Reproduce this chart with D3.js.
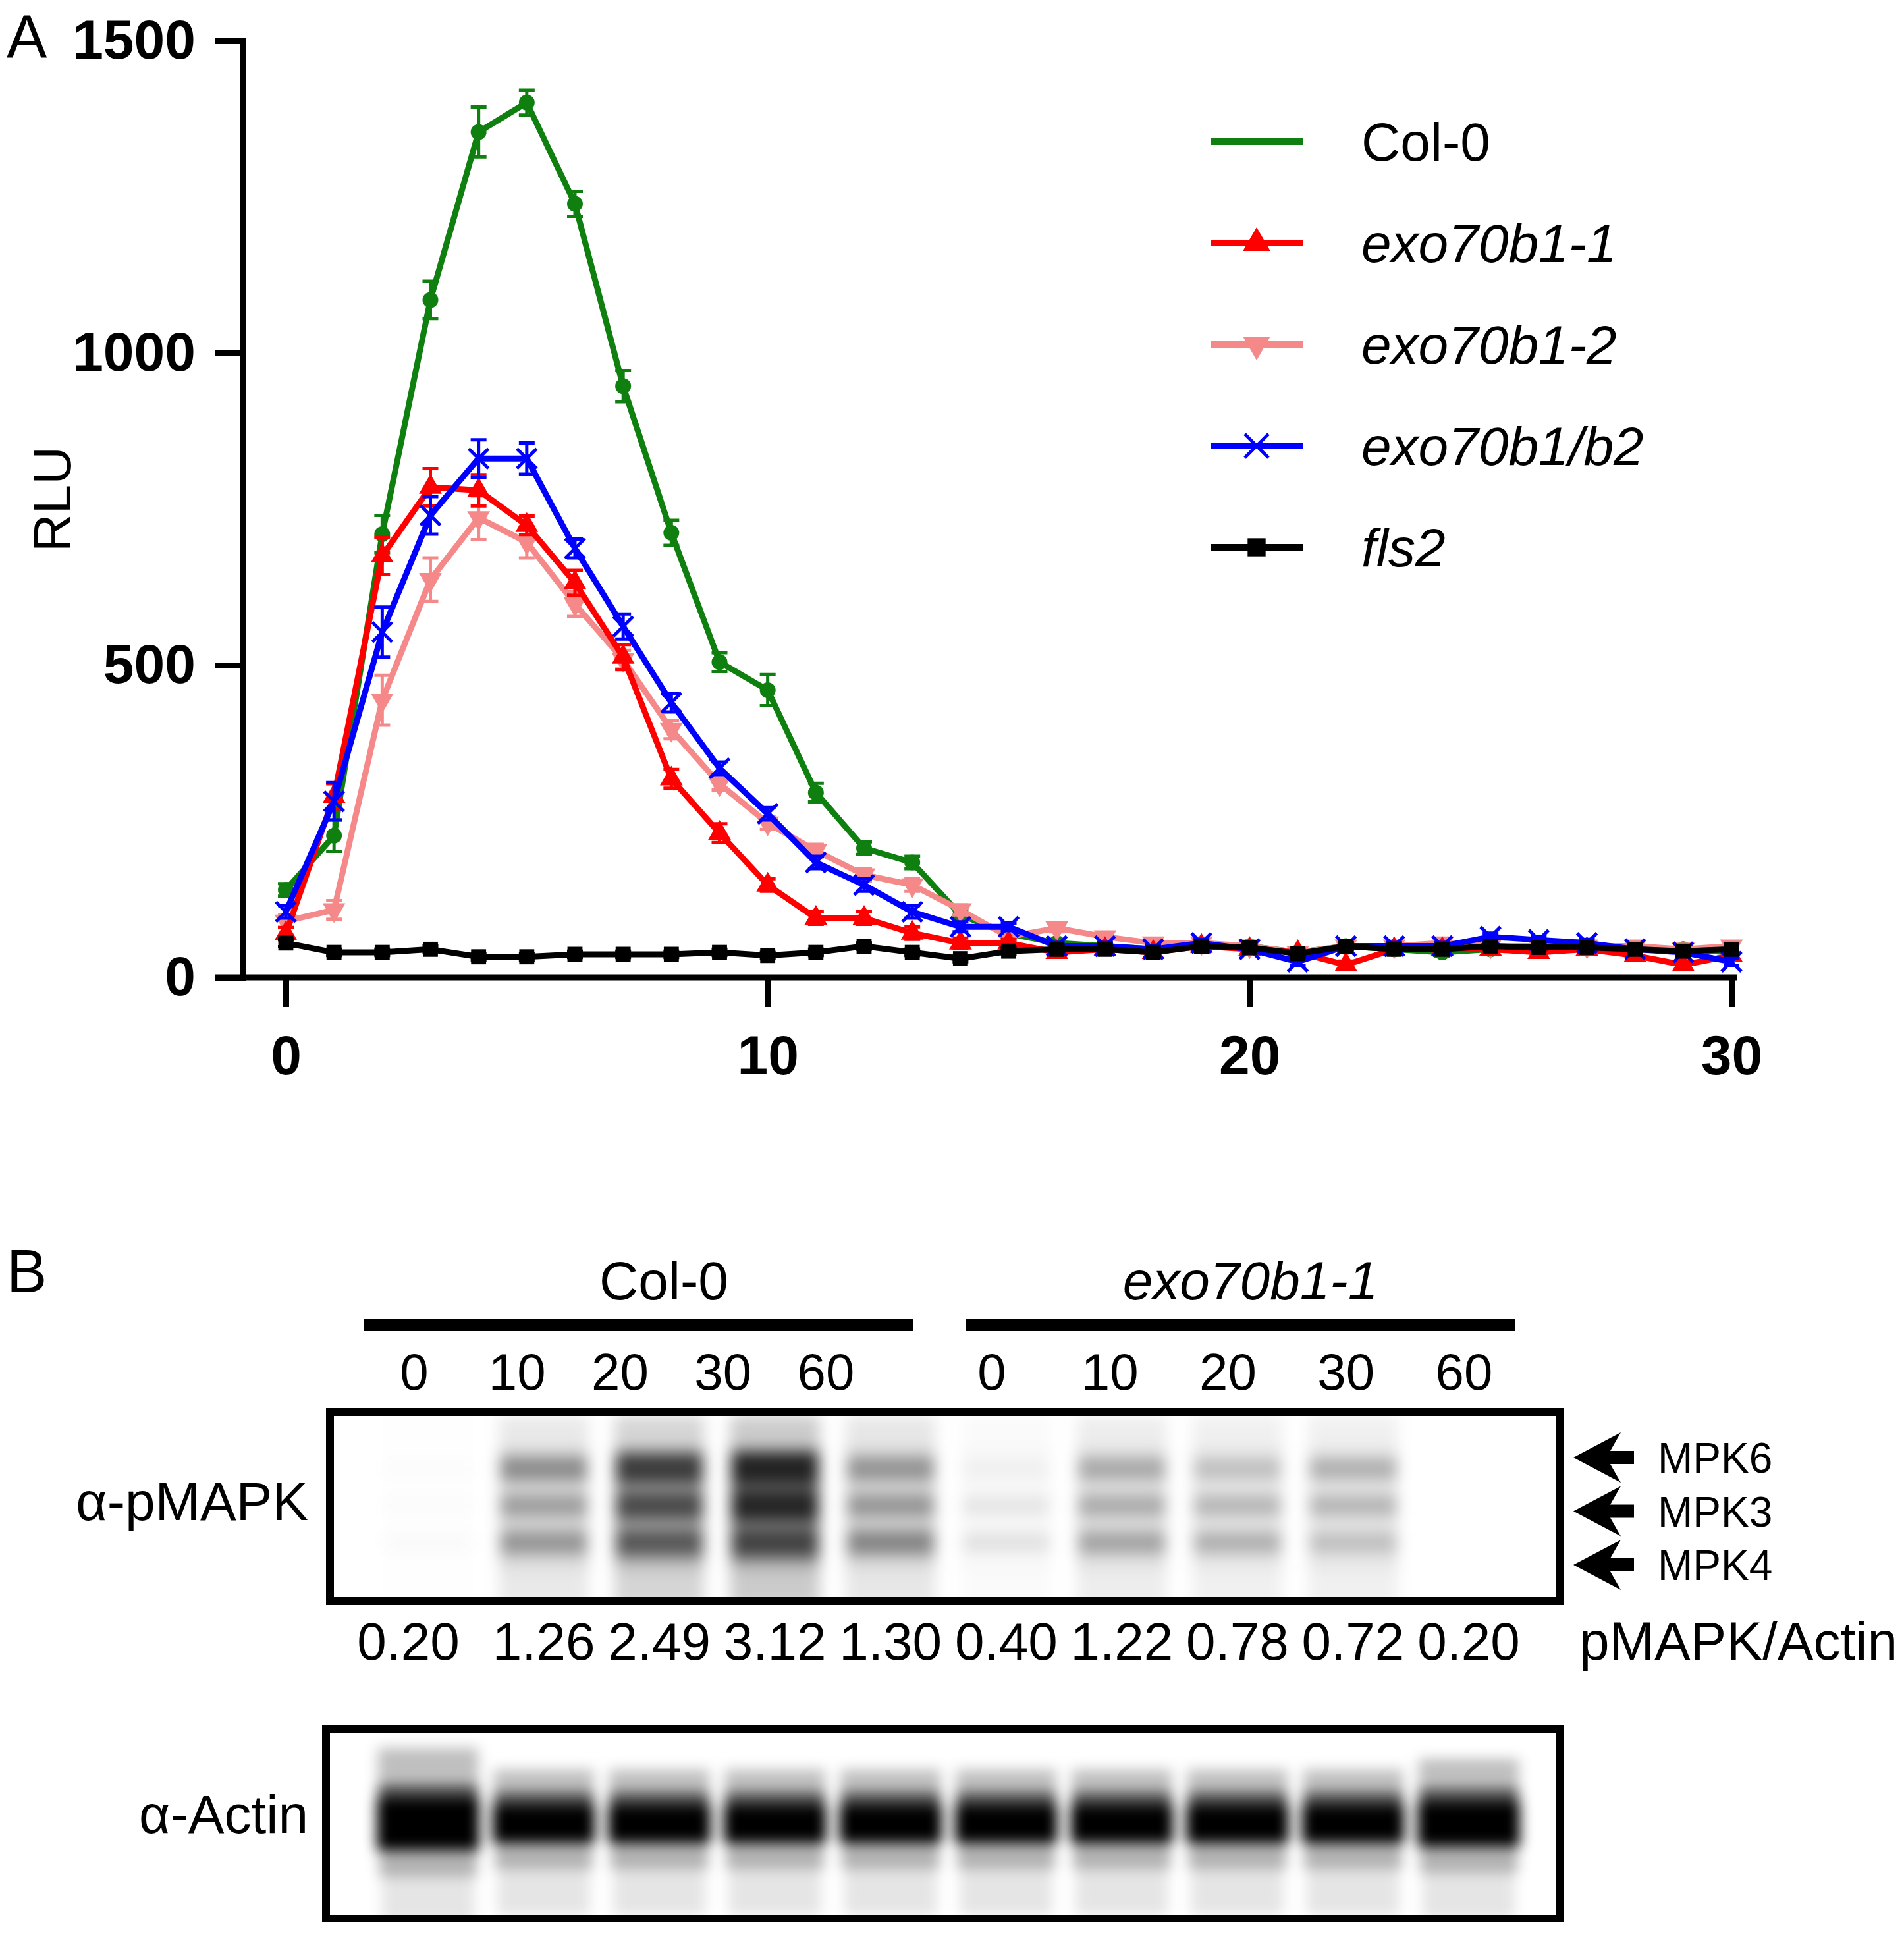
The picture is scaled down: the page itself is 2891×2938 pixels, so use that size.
<!DOCTYPE html>
<html>
<head>
<meta charset="utf-8">
<script src="https://cdn.jsdelivr.net/npm/d3@7"></script>
<style>
  body { margin: 0; background: #fff; }
  text { font-family: "Liberation Sans", Arial, sans-serif; }
</style>
</head>
<body>
<div id="fig"></div>
<script>
// ---- panel A data ----
const minutes = [0,1,2,3,4,5,6,7,8,9,10,11,12,13,14,15,16,17,18,19,20,21,22,23,24,25,26,27,28,29,30];
const col0    = [140,227,710,1085,1354,1401,1239,947,712,505,460,296,207,184,100,70,55,50,45,50,50,40,50,45,40,45,45,50,45,45,40];
const col0Err = [10,25,30,30,40,20,20,25,20,15,25,15,10,10,8,6,6,6,6,6,6,6,6,6,6,6,6,6,6,6,6];
const b1_1    = [70,290,675,785,780,724,632,513,318,231,148,95,95,71,55,55,40,45,40,50,45,40,20,45,45,45,40,45,35,20,35];
const b1_1Err = [10,20,30,30,25,15,20,20,15,15,10,10,10,10,8,6,6,6,6,6,6,6,6,6,6,6,6,6,6,6,6];
const b1_2    = [90,108,444,637,736,697,598,509,397,310,247,203,164,148,108,65,79,65,55,55,50,40,50,50,55,50,50,50,50,45,50];
const b1_2Err = [10,15,40,35,35,25,20,15,15,10,10,10,10,10,8,6,6,6,6,6,6,6,6,6,6,6,6,6,6,6,6];
const b1b2    = [105,282,553,740,831,831,687,562,440,335,262,184,148,105,81,81,50,50,45,55,45,25,50,50,50,65,60,55,45,40,25];
const b1b2Err = [10,30,40,30,30,25,15,20,15,10,10,10,10,10,8,6,6,6,6,6,6,6,6,6,6,6,6,6,6,6,6];
const fls2    = [55,40,40,45,33,33,37,37,37,40,35,40,50,40,30,42,45,45,40,50,48,38,50,45,45,50,48,48,45,42,45];
const fls2Err = [6,5,5,5,5,5,5,5,5,5,5,5,5,5,5,5,5,5,5,5,5,5,5,5,5,5,5,5,5,5,5];
const yTicks = [0, 500, 1000, 1500];
const xTicks = [0, 10, 20, 30];

// ---- panel B data ----
const groups = ['Col-0', 'exo70b1-1'];
const timePoints = ['0','10','20','30','60'];
const ratio = [0.20, 1.26, 2.49, 3.12, 1.30, 0.40, 1.22, 0.78, 0.72, 0.20];
const mpk6  = [0.02, 0.45, 0.85, 1.00, 0.40, 0.05, 0.32, 0.22, 0.30, 0.00];
const mpk3  = [0.02, 0.35, 0.75, 0.98, 0.38, 0.10, 0.30, 0.26, 0.27, 0.00];
const mpk4  = [0.03, 0.40, 0.66, 0.78, 0.48, 0.12, 0.35, 0.30, 0.22, 0.00];
const actin = [1.4, 1.0, 1.0, 1.0, 1.0, 1.0, 1.0, 1.0, 1.0, 1.2];
const kinases = ['MPK6', 'MPK3', 'MPK4'];

const series = [
  { name: 'Col-0',      vals: col0, err: col0Err, color: '#0f7f0f', shape: 'circle', italic: false },
  { name: 'exo70b1-2',  vals: b1_2, err: b1_2Err, color: '#f5898a', shape: 'down',   italic: true },
  { name: 'exo70b1-1',  vals: b1_1, err: b1_1Err, color: '#ff0000', shape: 'up',     italic: true },
  { name: 'exo70b1/b2', vals: b1b2, err: b1b2Err, color: '#0000ff', shape: 'x',      italic: true },
  { name: 'fls2',       vals: fls2, err: fls2Err, color: '#000000', shape: 'square', italic: true }
];
const legendOrder = ['Col-0', 'exo70b1-1', 'exo70b1-2', 'exo70b1/b2', 'fls2'];

const W = 2891, H = 2938;
const svg = d3.select('#fig').append('svg')
  .attr('width', W).attr('height', H)
  .attr('viewBox', `0 0 ${W} ${H}`);

const FONT = '"Liberation Sans", Arial, sans-serif';

// ================= panel A =================
const x = d3.scaleLinear().domain([0, 30]).range([434, 2629]);
const y = d3.scaleLinear().domain([0, 1500]).range([1484, 62]);
const yAxisX = 369, tickLen = 42, axisW = 9;

svg.append('text').attr('x', 10).attr('y', 88)
  .attr('font-size', 92).text('A');

svg.append('g')
  .attr('transform', `translate(${yAxisX},0)`)
  .call(d3.axisLeft(y).tickValues(yTicks).tickFormat(d3.format('d'))
    .tickSize(tickLen).tickSizeOuter(0).tickPadding(30))
  .call(g => {
    g.attr('font-family', FONT).attr('font-size', 84).attr('font-weight', 'bold');
    g.select('.domain').attr('stroke-width', axisW).attr('stroke-linecap', 'square');
    g.selectAll('.tick line').attr('stroke-width', axisW);
  });

svg.append('g')
  .attr('transform', `translate(0,${y(0)})`)
  .call(d3.axisBottom(x).tickValues(xTicks).tickSize(45).tickSizeOuter(0).tickPadding(42))
  .call(g => {
    g.attr('font-family', FONT).attr('font-size', 84).attr('font-weight', 'bold');
    g.select('.domain').attr('d', `M${yAxisX - tickLen},0H${x(30) + axisW}`).attr('stroke-width', axisW);
    g.selectAll('.tick line').attr('stroke-width', axisW);
  });

svg.append('text')
  .attr('transform', `translate(79,${(y(0) + y(1500)) / 2 - 15}) rotate(-90)`)
  .attr('text-anchor', 'middle').attr('dominant-baseline', 'central')
  .attr('font-size', 80).text('RLU');

function marker(g, shape, color, k = 1) {
  if (shape === 'circle') {
    g.append('circle').attr('r', 12 * k).attr('fill', color);
  } else if (shape === 'up') {
    g.append('path').attr('d', d3.symbol(d3.symbolTriangle, 520 * k * k)()).attr('fill', color);
  } else if (shape === 'down') {
    g.append('path').attr('d', d3.symbol(d3.symbolTriangle, 520 * k * k)())
      .attr('transform', 'rotate(180)').attr('fill', color);
  } else if (shape === 'square') {
    g.append('path').attr('d', d3.symbol(d3.symbolSquare, 520 * k * k)()).attr('fill', color);
  } else if (shape === 'x') {
    const r = 15 * k;
    g.append('path').attr('d', `M${-r},${-r}L${r},${r}M${-r},${r}L${r},${-r}`)
      .attr('stroke', color).attr('stroke-width', 5).attr('fill', 'none');
  }
}

const line = d3.line().x((d, i) => x(minutes[i])).y(d => y(d));
const plot = svg.append('g');

series.forEach(s => {
  const g = plot.append('g');
  g.append('path').datum(s.vals)
    .attr('d', line).attr('fill', 'none')
    .attr('stroke', s.color).attr('stroke-width', 9).attr('stroke-linejoin', 'round');

  const eb = g.selectAll('.eb').data(s.vals).enter().append('g')
    .attr('transform', (d, i) => `translate(${x(minutes[i])},0)`);
  eb.append('path')
    .attr('d', (d, i) => {
      const t = y(d + s.err[i]), b = y(Math.max(0, d - s.err[i]));
      return `M0,${t}V${b}M-12,${t}H12M-12,${b}H12`;
    })
    .attr('stroke', s.color).attr('stroke-width', 5).attr('fill', 'none');

  g.selectAll('.pt').data(s.vals).enter().append('g')
    .attr('transform', (d, i) => `translate(${x(minutes[i])},${y(d)})`)
    .each(function () { marker(d3.select(this), s.shape, s.color); });
});

// legend
const legend = svg.append('g');
legendOrder.forEach((name, i) => {
  const s = series.find(d => d.name === name);
  const ly = 215 + i * 154;
  legend.append('line').attr('x1', 1839).attr('x2', 1978).attr('y1', ly).attr('y2', ly)
    .attr('stroke', s.color).attr('stroke-width', 10);
  if (s.shape !== 'circle') {
    const m = legend.append('g').attr('transform', `translate(1908,${ly})`);
    marker(m, s.shape, s.color, 1.2);
  }
  legend.append('text').attr('x', 2067).attr('y', ly + 29)
    .attr('font-size', 82).attr('font-style', s.italic ? 'italic' : 'normal')
    .text(s.name);
});

// ================= panel B =================
const defs = svg.append('defs');
defs.append('filter').attr('id', 'blurB')
  .attr('x', '-50%').attr('y', '-50%').attr('width', '200%').attr('height', '200%')
  .append('feGaussianBlur').attr('stdDeviation', 11);
defs.append('filter').attr('id', 'blurA')
  .attr('x', '-50%').attr('y', '-50%').attr('width', '200%').attr('height', '200%')
  .append('feGaussianBlur').attr('stdDeviation', 10);
defs.append('clipPath').attr('id', 'clipP')
  .append('rect').attr('x', 507).attr('y', 2150).attr('width', 1856).attr('height', 275);
defs.append('clipPath').attr('id', 'clipA')
  .append('rect').attr('x', 501).attr('y', 2631).attr('width', 1862).attr('height', 276);

const lanes = d3.range(ratio.length);
const lane = d3.scalePoint().domain(lanes).range([650, 2230]);

svg.append('text').attr('x', 10).attr('y', 1962).attr('font-size', 92).text('B');

// group headers
const groupBars = [[553, 1387], [1466, 2301]];
const labelRange = [[629, 1254], [1506, 2223]];
groups.forEach((gname, gi) => {
  const [a, b] = groupBars[gi];
  svg.append('text').attr('x', (a + b) / 2 + (gi === 0 ? 38 : 15)).attr('y', 1973)
    .attr('text-anchor', 'middle').attr('font-size', 82)
    .attr('font-style', gi === 0 ? 'normal' : 'italic').text(gname);
  svg.append('rect').attr('x', a).attr('y', 2002).attr('width', b - a).attr('height', 19).attr('fill', '#000');
  const ts = d3.scalePoint().domain(timePoints).range(labelRange[gi]);
  svg.selectAll(null).data(timePoints).enter().append('text')
    .attr('x', d => ts(d)).attr('y', 2110)
    .attr('text-anchor', 'middle').attr('font-size', 78).text(d => d);
});

// pMAPK blot
const bandRows = d3.scalePoint().domain(kinases).range([2230, 2342]);
const bandData = [mpk6, mpk3, mpk4];
const blotP = svg.append('g').attr('clip-path', 'url(#clipP)');
const bandsG = blotP.append('g').attr('filter', 'url(#blurB)');
lanes.forEach(i => {
  const avg = (mpk6[i] + mpk3[i] + mpk4[i]) / 3;
  bandsG.append('rect')
    .attr('x', lane(i) - 68).attr('y', 2150).attr('width', 136).attr('height', 290)
    .attr('fill', '#000').attr('opacity', avg * 0.22);
  bandsG.append('rect')
    .attr('x', lane(i) - 68).attr('y', 2195).attr('width', 136).attr('height', 190)
    .attr('fill', '#000').attr('opacity', avg * 0.15);
  kinases.forEach((k, r) => {
    const v = bandData[r][i];
    const h = 26 + 24 * v;
    bandsG.append('rect')
      .attr('x', lane(i) - 66).attr('y', bandRows(k) - h / 2)
      .attr('width', 132).attr('height', h)
      .attr('fill', '#000').attr('opacity', Math.min(1, v * 0.8));
  });
});
svg.append('rect').attr('x', 501).attr('y', 2144).attr('width', 1868).attr('height', 287)
  .attr('fill', 'none').attr('stroke', '#000').attr('stroke-width', 12);

svg.append('text').attr('x', 468).attr('y', 2308).attr('text-anchor', 'end')
  .attr('font-size', 82).text('α-pMAPK');

// arrows
const arrowY = d3.scalePoint().domain(kinases).range([2213, 2376]);
kinases.forEach(k => {
  svg.append('path')
    .attr('transform', `translate(2389,${arrowY(k)})`)
    .attr('d', 'M0,0L72,-38L56,-10H92V10H56L72,38Z')
    .attr('fill', '#000');
  svg.append('text').attr('x', 2517).attr('y', arrowY(k) + 23)
    .attr('font-size', 64).text(k);
});

// ratio row
svg.selectAll(null).data(ratio).enter().append('text')
  .attr('x', (d, i) => lane(i) - (i === 0 ? 30 : 0)).attr('y', 2520)
  .attr('text-anchor', 'middle').attr('font-size', 80)
  .text(d => d3.format('.2f')(d));
svg.append('text').attr('x', 2398).attr('y', 2520).attr('font-size', 82).text('pMAPK/Actin');

// actin blot
const blotA = svg.append('g').attr('clip-path', 'url(#clipA)');
const actG = blotA.append('g').attr('filter', 'url(#blurA)');
lanes.forEach(i => {
  const s = actin[i];
  const core = 56 * s;
  const top = 2770 - core / 2;
  actG.append('rect').attr('x', lane(i) - 76).attr('y', top - 55 * s)
    .attr('width', 152).attr('height', 55 * s).attr('fill', '#000').attr('opacity', 0.25);
  actG.append('rect').attr('x', lane(i) - 76).attr('y', top - 20)
    .attr('width', 152).attr('height', 20).attr('fill', '#000').attr('opacity', 0.6);
  actG.append('rect').attr('x', lane(i) - 78).attr('y', top)
    .attr('width', 156).attr('height', core).attr('fill', '#000');
  actG.append('rect').attr('x', lane(i) - 74).attr('y', top + core)
    .attr('width', 148).attr('height', 40).attr('fill', '#000').attr('opacity', 0.3);
  actG.append('rect').attr('x', lane(i) - 70).attr('y', top + core + 40)
    .attr('width', 140).attr('height', 70).attr('fill', '#000').attr('opacity', 0.1);
});
svg.append('rect').attr('x', 495).attr('y', 2625).attr('width', 1874).attr('height', 288)
  .attr('fill', 'none').attr('stroke', '#000').attr('stroke-width', 12);

svg.append('text').attr('x', 468).attr('y', 2783).attr('text-anchor', 'end')
  .attr('font-size', 82).text('α-Actin');
</script>
</body>
</html>
